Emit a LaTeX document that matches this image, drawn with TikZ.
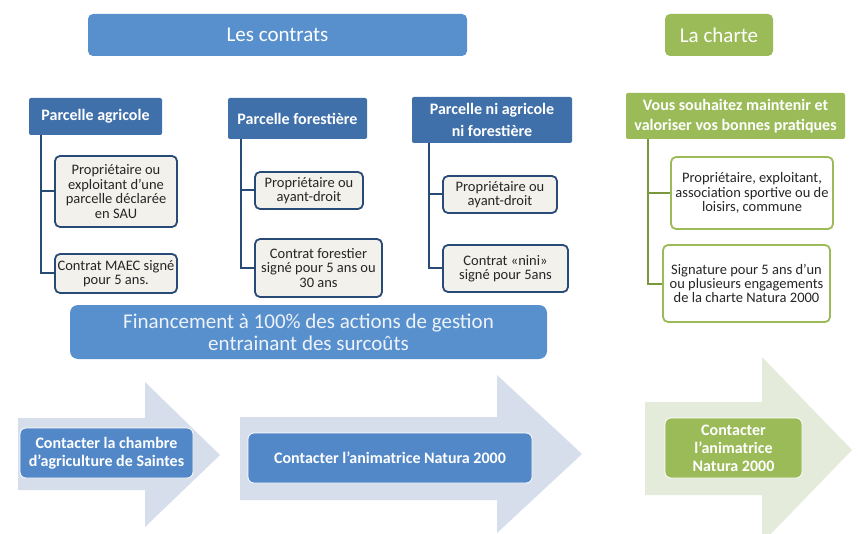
\documentclass[tikz,border=0pt]{standalone}
\usepackage{fontspec}
\setmainfont{Carlito}
\definecolor{topblue}{RGB}{88,144,206}
\definecolor{headblue}{RGB}{64,112,170}
\definecolor{navy}{RGB}{40,74,118}
\definecolor{childfill}{RGB}{243,241,236}
\definecolor{arrowblue}{RGB}{215,222,235}
\definecolor{boxblue}{RGB}{82,136,200}
\definecolor{leaf}{RGB}{155,187,89}
\definecolor{leafdark}{RGB}{122,152,62}
\definecolor{arrowleaf}{RGB}{229,235,219}
\definecolor{fintext}{RGB}{238,243,250}
\begin{document}
\begin{tikzpicture}[x=1pt, y=-1pt, thick,
		title/.style={rounded corners=5pt, text=white, font=\fontsize{21}{24}\selectfont, inner sep=0pt},
		head/.style={fill=headblue, rounded corners=2pt, text=white, align=center, inner sep=0pt, font=\bfseries\fontsize{16}{21.5}\selectfont},
		child/.style={draw=navy, line width=1.8pt, fill=childfill, rounded corners=5pt, align=center, inner sep=0pt, text=black!85, font=\fontsize{14.5}{14.4}\selectfont},
		leafchild/.style={child, draw=leaf, fill=white},
		branch/.style={draw=navy, line width=2pt},
		contact/.style={draw=white, line width=0.8pt, rounded corners=6pt, text=white, align=center, inner sep=0pt, font=\bfseries\fontsize{16}{18}\selectfont}
		]
	\useasboundingbox (0,0) rectangle (858,534);
	\fill[white] (0,0) rectangle (858,534);
	\fill[arrowblue] (18,418) -- (145,418) -- (145,382) -- (220,455) -- (145,527) -- (145,490) -- (18,490) -- cycle;
	\fill[arrowblue] (240,417) -- (497,417) -- (497,375) -- (582,454) -- (497,533) -- (497,500) -- (240,500) -- cycle;
	\fill[arrowleaf] (645,402) -- (762,402) -- (762,357) -- (852,450) -- (762,543) -- (762,495) -- (645,495) -- cycle;
	\node [title, fill=topblue, minimum width=379pt, minimum height=42pt] (contrats) at (277.5,35) {Les contrats};
	\node [title, fill=leaf, minimum width=108pt, minimum height=42pt] (charte) at (719,35) {La charte};
	\node [head, minimum width=133pt, minimum height=37pt] (pa) at (95.5,116.5) {Parcelle agricole};
	\node [head, minimum width=139pt, minimum height=41pt] (pf) at (297.5,118.5) {Parcelle forestière};
	\node [head, minimum width=160pt, minimum height=46pt] (pn) at (492,120) {Parcelle ni agricole\\ni forestière};
	\node [head, fill=leaf, font=\bfseries\fontsize{16}{20.5}\selectfont, minimum width=219pt, minimum height=46pt] (pv) at (735.5,116) {Vous souhaitez maintenir et\\valoriser vos bonnes pratiques};
	\node [child, minimum width=122pt, minimum height=71pt] (pa1) at (116,191.5) {Propriétaire ou\\exploitant d’une\\parcelle déclarée\\en SAU};
	\node [child, minimum width=122pt, minimum height=39pt] (pa2) at (116,273.5) {Contrat MAEC signé\\pour 5 ans.};
	\node [child, minimum width=108pt, minimum height=37pt] (pf1) at (309,190.5) {Propriétaire ou\\ayant-droit};
	\node [child, minimum width=127pt, minimum height=58pt] (pf2) at (318.5,268) {Contrat forestier\\signé pour 5 ans ou\\30 ans};
	\node [child, minimum width=114pt, minimum height=37pt] (pn1) at (500,194.5) {Propriétaire ou\\ayant-droit};
	\node [child, minimum width=125pt, minimum height=47pt] (pn2) at (505.5,268.5) {Contrat «nini»\\signé pour 5ans};
	\node [leafchild, minimum width=162pt, minimum height=72pt] (pv1) at (752,193) {Propriétaire, exploitant,\\association sportive ou de\\loisirs, commune};
	\node [leafchild, minimum width=167pt, minimum height=77pt] (pv2) at (746.5,283.5) {Signature pour 5 ans d’un\\ou plusieurs engagements\\de la charte Natura 2000};
	\draw[branch] ([xshift=12pt]pa.south west) |- (pa1.west) ([xshift=12pt]pa.south west) |- (pa2.west);
	\draw[branch] ([xshift=13pt]pf.south west) |- (pf1.west) ([xshift=13pt]pf.south west) |- (pf2.west);
	\draw[branch] ([xshift=17pt]pn.south west) |- (pn1.west) ([xshift=17pt]pn.south west) |- (pn2.west);
	\draw[branch, draw=leafdark] ([xshift=22pt]pv.south west) |- (pv1.west) ([xshift=22pt]pv.south west) |- (pv2.west);
	\node [fill=topblue, rounded corners=8pt, minimum width=477pt, minimum height=54pt, align=center, inner sep=0pt, text=fintext, font=\fontsize{21}{22}\selectfont] (fin) at (308.5,332) {Financement à 100\% des actions de gestion\\entrainant des surcoûts};
	\node [contact, fill=boxblue, minimum width=173pt, minimum height=50pt] (c1) at (106.5,453) {Contacter la chambre\\d’agriculture de Saintes};
	\node [contact, fill=boxblue, minimum width=284pt, minimum height=50pt] (c2) at (390,458) {Contacter l’animatrice Natura 2000};
	\node [contact, fill=leaf, minimum width=137pt, minimum height=60pt] (c3) at (733.5,448) {Contacter\\l’animatrice\\Natura 2000};
\end{tikzpicture}
\end{document}
